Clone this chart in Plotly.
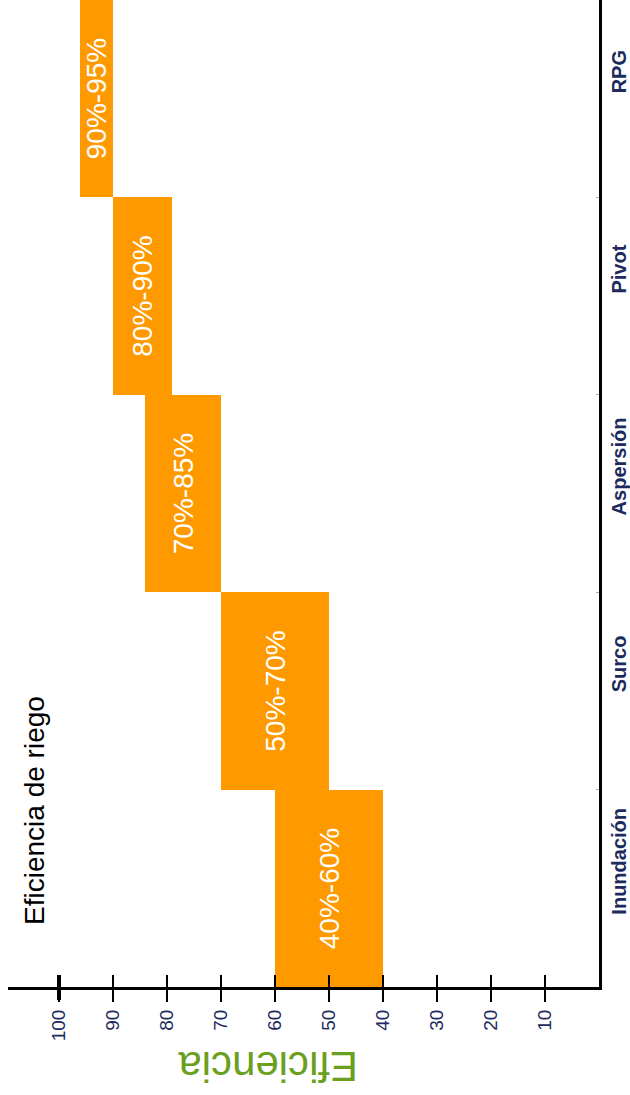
import plotly.graph_objects as go

categories = ["Inundación", "Surco", "Aspersión", "Pivot", "RPG"]
eff_low = [40, 50, 70, 79, 90]
eff_high = [60, 70, 84, 90, 96]
range_labels = ["40%-60%", "50%-70%", "70%-85%", "80%-90%", "90%-95%"]
tick_values = [10, 20, 30, 40, 50, 60, 70, 80, 90, 100]
bold_tick = [100]

FONT = "Liberation Sans, Arial, sans-serif"
widths = [h - l for l, h in zip(eff_low, eff_high)]

fig = go.Figure()
fig.add_trace(go.Bar(
    y=categories, x=widths, base=eff_low, orientation="h",
    marker=dict(color="#ff9900", line=dict(width=0)),
    text=range_labels, textposition="inside", insidetextanchor="middle",
    textangle=-90, constraintext="none",
    textfont=dict(color="white", size=28, family=FONT),
    width=1, hoverinfo="skip", showlegend=False,
))
# invisible traces to anchor the overlay axes (inside tick halves, bold tick)
for ax in ["x2", "x3", "x4"]:
    fig.add_trace(go.Scatter(x=[None], y=[None], xaxis=ax, yaxis="y",
                             showlegend=False, hoverinfo="skip"))

xr = [109.4, 0]
overlay = dict(range=xr, overlaying="x", side="bottom", anchor="y",
               showticklabels=False, showline=False, showgrid=False,
               zeroline=False, ticklen=12, tickcolor="black")
fig.update_layout(
    width=630, height=1095,
    margin=dict(l=8, r=27, t=0, b=108),
    paper_bgcolor="white", plot_bgcolor="white",
    bargap=0,
    font=dict(family=FONT),
    xaxis=dict(
        range=xr, tickvals=tick_values, ticktext=[str(v) for v in tick_values],
        tickangle=-90, ticks="outside", ticklen=12, tickwidth=2, tickcolor="black",
        showline=True, linecolor="black", linewidth=3, showgrid=False, zeroline=False,
        tickfont=dict(size=19, color="#1c2b5e", family=FONT),
    ),
    xaxis2=dict(overlay, tickvals=tick_values, ticks="inside", tickwidth=2),
    xaxis3=dict(overlay, tickvals=bold_tick, ticks="inside", tickwidth=4),
    xaxis4=dict(overlay, tickvals=bold_tick, ticks="outside", tickwidth=4),
    yaxis=dict(
        side="right", range=[-0.5, 4.5], tickangle=-90, ticklabelshift=-24,
        showline=True, linecolor="black", linewidth=3, showgrid=False,
        ticks="inside", tickson="boundaries", ticklen=3, tickcolor="#aaaaaa", tickwidth=1,
        tickfont=dict(size=20, color="#1c2b5e", family="Liberation Sans, Arial", weight="bold"),
    ),
    annotations=[
        dict(text="Eficiencia de riego", xref="paper", yref="paper",
             x=0.045, y=0.179, xanchor="center", yanchor="middle",
             textangle=-90, showarrow=False,
             font=dict(size=28, color="black", family=FONT)),
        dict(text="Eficiencia", xref="paper", yref="paper",
             x=0.44, y=-0.08, xanchor="center", yanchor="middle",
             textangle=180, showarrow=False,
             font=dict(size=42, color="#6aa01e", family=FONT)),
    ],
)

fig.write_html("out.html")
